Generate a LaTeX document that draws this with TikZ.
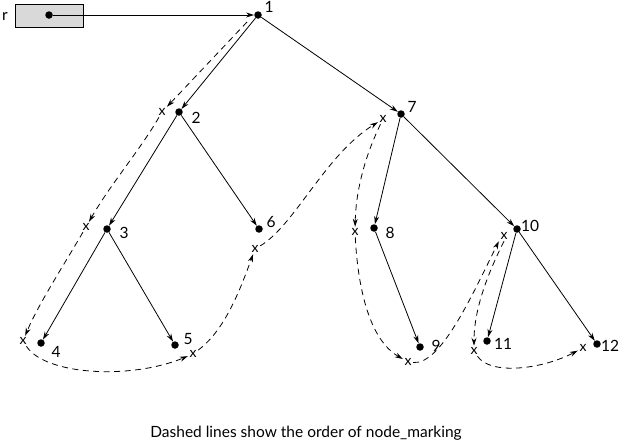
\documentclass[tikz,border=0pt]{standalone}
\usepackage{fontspec}
\setmainfont{Lato}
\usetikzlibrary{arrows.meta}
\begin{document}
\begin{tikzpicture}[x=1pt,y=-1pt,
  dot/.style={circle, fill=black, inner sep=0pt, minimum size=7.5pt},
  edge/.style={-{Stealth[length=8pt,width=5pt]}, line width=0.8pt},
  dsh/.style={dash pattern=on 6pt off 4.5pt, -{Stealth[length=8pt,width=5pt]}, line width=0.8pt},
  xm/.style={inner sep=1.5pt, font=\fontsize{14}{14}\selectfont},
  lbl/.style={inner sep=0pt, font=\fontsize{15.5}{15.5}\selectfont},
  regbox/.style={draw, line width=0.8pt, fill=black!15, minimum width=68pt, minimum height=23pt, inner sep=0pt}]
\useasboundingbox (0,0) rectangle (620,442);
% pointer box
\node[regbox] (box) at (49,15.5) {};
\node[dot] (rd) at (49,15) {};
\node[lbl, anchor=east] (rl) at (8,17) {r};
% tree nodes
\node[dot] (n1) at (258,15) {};
\node[dot] (n2) at (179,112) {};
\node[dot] (n3) at (107,229) {};
\node[dot] (n4) at (41,343) {};
\node[dot] (n5) at (175,345) {};
\node[dot] (n6) at (259,229) {};
\node[dot] (n7) at (401,114) {};
\node[dot] (n8) at (374,228) {};
\node[dot] (n9) at (420,347) {};
\node[dot] (n10) at (517,229) {};
\node[dot] (n11) at (487,341) {};
\node[dot] (n12) at (597,344) {};
% labels
\node[lbl] (l1) at (269,7) {1};
\node[lbl] (l2) at (196,118) {2};
\node[lbl] (l3) at (124,233) {3};
\node[lbl] (l4) at (56,352) {4};
\node[lbl] (l5) at (188,339) {5};
\node[lbl] (l6) at (271,222) {6};
\node[lbl] (l7) at (412,107) {7};
\node[lbl] (l8) at (390,233) {8};
\node[lbl] (l9) at (436,346) {9};
\node[lbl] (l10) at (530,226) {10};
\node[lbl] (l11) at (503,344) {11};
\node[lbl] (l12) at (610,346) {12};
% x markers
\node[xm] (x2) at (162,112) {x};
\node[xm] (x3) at (86,227) {x};
\node[xm] (x4) at (23,341) {x};
\node[xm] (x5) at (193,354) {x};
\node[xm] (x6) at (255,249) {x};
\node[xm] (x7) at (383,119) {x};
\node[xm] (x8) at (355,232) {x};
\node[xm] (x9) at (408,362) {x};
\node[xm] (x10) at (504,236) {x};
\node[xm] (x11) at (474,351) {x};
\node[xm] (x12) at (583,348) {x};
\coordinate (s1) at (247,22);
% solid edges
\draw[edge] (rd) -- (n1);
\draw[edge] (n1) -- (n2);
\draw[edge] (n2) -- (n3);
\draw[edge] (n2) -- (n6);
\draw[edge] (n3) -- (n4);
\draw[edge] (n3) -- (n5);
\draw[edge] (n1) -- (n7);
\draw[edge] (n7) -- (n8);
\draw[edge] (n7) -- (n10);
\draw[edge] (n8) -- (n9);
\draw[edge] (n10) -- (n11);
\draw[edge] (n10) -- (n12);
% dashed traversal
\draw[dsh] (s1) -- (x2);
\draw[dsh] (x2) .. controls (140,150) and (110,185) .. (x3);
\draw[dsh] (x3) .. controls (62,268) and (38,305) .. (x4);
\draw[dsh] (x4) .. controls (45,375) and (130,380) .. (x5);
\draw[dsh] (x5) .. controls (225,330) and (240,290) .. (x6);
\draw[dsh] (x6) .. controls (295,225) and (325,155) .. (x7);
\draw[dsh] (x7) .. controls (368,150) and (356,185) .. (x8);
\draw[dsh] (x8) .. controls (358,290) and (370,340) .. (x9);
\draw[dsh] (x9) .. controls (440,365) and (470,300) .. (x10.south west);
\draw[dsh] (x10.south) .. controls (487,275) and (474,310) .. (x11);
\draw[dsh] (x11) .. controls (490,375) and (540,370) .. (x12);
% caption
\node[inner sep=0pt, font=\fontsize{15.5}{16}\selectfont] (cap) at (306,433) {Dashed lines show the order of node\_marking};
\end{tikzpicture}
\end{document}
